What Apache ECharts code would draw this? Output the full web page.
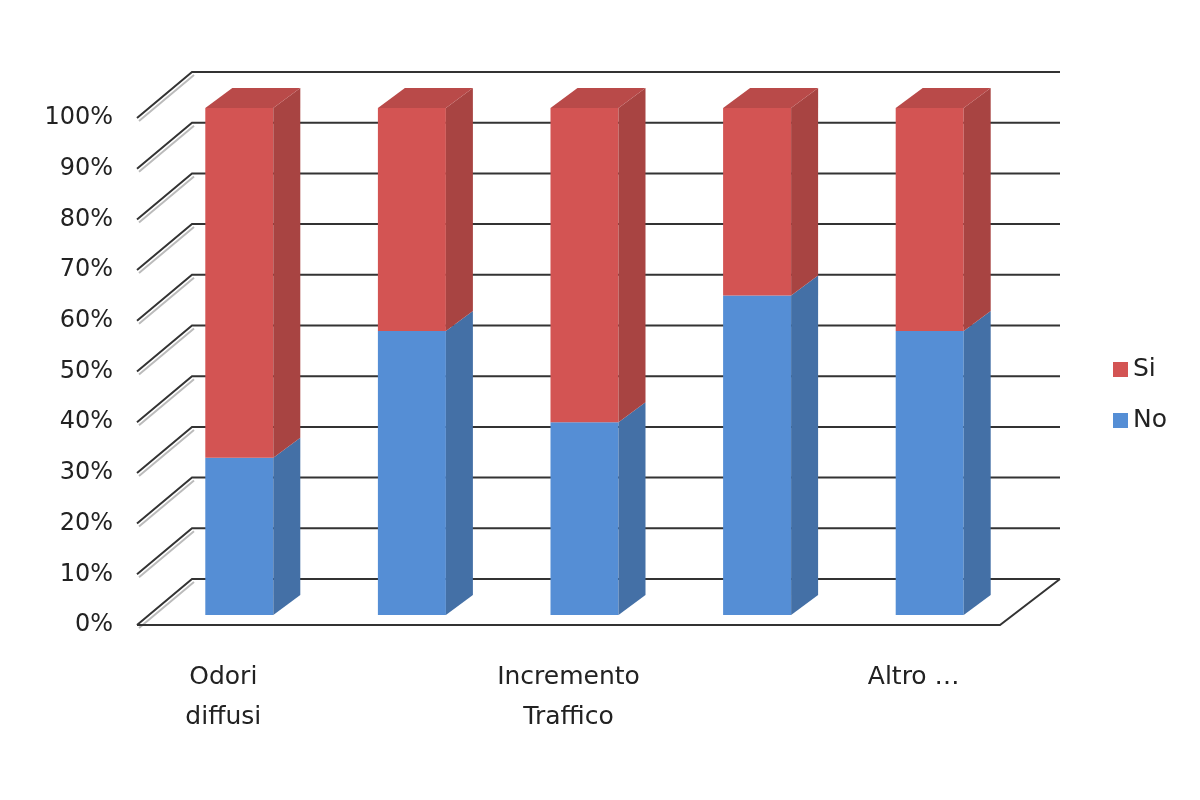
<!DOCTYPE html>
<html><head><meta charset="utf-8">
<script src="https://cdn.jsdelivr.net/npm/echarts@6/dist/echarts.min.js"></script>
<style>html,body{margin:0;background:#fff}#c{width:1200px;height:800px}</style>
</head><body><div id="c"></div>
<script>
const categories = ['Odori\ndiffusi', 'Rumore', 'Incremento\nTraffico', 'Impatto\nvisivo', 'Altro …'];
const noValues = [31, 56, 38, 63, 56];
const siValues = noValues.map(v => 100 - v);
const ticks = [0,10,20,30,40,50,60,70,80,90,100];

const chart = echarts.init(document.getElementById('c'));
const WX = 55, WY = -46, BX = 16, BY = -10, BW = 68, DX = 27, DY = -20;

function barRender(front, side, top, withTop) {
  return function (params, api) {
    const i = api.value(0), a = api.value(1), b = api.value(2);
    const p0 = api.coord([i, a]), p1 = api.coord([i, b]);
    const xl = p0[0] + BX - BW / 2, xr = xl + BW;
    const yb = p0[1] + BY, yt = p1[1] + BY;
    const ch = [
      {type: 'rect', shape: {x: xl, y: yt, width: BW, height: yb - yt}, style: {fill: front}},
      {type: 'polygon', shape: {points: [[xr, yt], [xr + DX, yt + DY], [xr + DX, yb + DY], [xr, yb]]}, style: {fill: side}}
    ];
    if (withTop) ch.push({type: 'polygon', shape: {points: [[xl, yt], [xl + DX, yt + DY], [xr + DX, yt + DY], [xr, yt]]}, style: {fill: top}});
    return {type: 'group', children: ch};
  };
}

chart.setOption({
  animation: false,
  grid: {left: 137, right: 200, top: 118, bottom: 175},
  legend: {
    orient: 'vertical', right: 28, top: 352, itemGap: 26, itemWidth: 15, itemHeight: 15, icon: 'rect',
    data: ['Si', 'No'], textStyle: {fontSize: 25, color: '#222', fontFamily: 'DejaVu Sans'}
  },
  xAxis: {
    type: 'category', data: categories,
    axisLine: {show: false}, axisTick: {show: false},
    axisLabel: {margin: 32, fontSize: 25, color: '#222', lineHeight: 40, fontFamily: 'DejaVu Sans', align: 'center'}
  },
  yAxis: {
    type: 'value', min: 0, max: 100, interval: 10,
    splitLine: {show: false}, axisLine: {show: false}, axisTick: {show: false},
    axisLabel: {formatter: '{value}%', margin: 24, fontSize: 24, color: '#222', fontFamily: 'DejaVu Sans'}
  },
  series: [
    {
      type: 'custom', name: 'walls', z: 1, silent: true,
      data: ticks.map(t => [0, t]),
      renderItem: function (params, api) {
        const cs = params.coordSys;
        const y = api.coord([0, api.value(1)])[1];
        const x0 = cs.x, x1 = cs.x + cs.width;
        const ch = [
          {type: 'polyline', shape: {points: [[x0 + 2, y + 3], [x0 + WX + 2, y + WY + 3]]}, style: {stroke: '#bbb', lineWidth: 2}},
          {type: 'polyline', shape: {points: [[x0, y], [x0 + WX, y + WY], [x1 + WX + 5, y + WY]]}, style: {stroke: '#333', lineWidth: 2, fill: null}}
        ];
        if (api.value(1) === 0) {
          ch.push({type: 'polyline', shape: {points: [[x0, y], [x1, y], [x1 + WX + 5, y + WY]]}, style: {stroke: '#333', lineWidth: 2, fill: null}});
        }
        return {type: 'group', children: ch};
      }
    },
    {
      type: 'custom', name: 'No', z: 2, itemStyle: {color: '#558ed5'},
      data: noValues.map((v, i) => [i, 0, v]),
      renderItem: barRender('#558ed5', '#4470a6', '#4a7cbb', false)
    },
    {
      type: 'custom', name: 'Si', z: 3, itemStyle: {color: '#d35453'},
      data: siValues.map((v, i) => [i, noValues[i], 100]),
      renderItem: barRender('#d35453', '#a84442', '#b94a49', true)
    }
  ]
});
</script></body></html>
